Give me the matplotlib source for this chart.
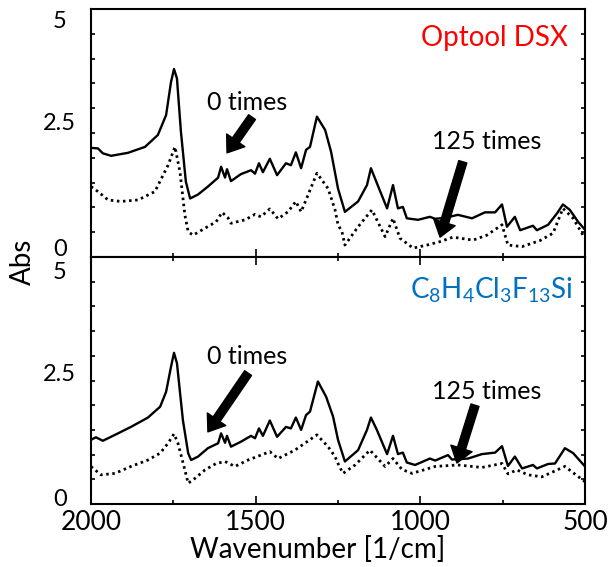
import numpy as np
import matplotlib
matplotlib.use("Agg")
import matplotlib.pyplot as plt
from matplotlib.transforms import ScaledTranslation

plt.rcParams['font.family'] = ['Lato', 'DejaVu Sans']
plt.rcParams['mathtext.default'] = 'regular'

# spectra: wavenumber [1/cm] and absorbance
wn_top_0 = [2000, 1979, 1964, 1939, 1888, 1836, 1797, 1772, 1757, 1748, 1739, 1727, 1712, 1699,
            1675, 1645, 1614, 1605, 1593, 1587, 1575, 1545, 1514, 1502, 1490, 1478, 1457, 1435,
            1408, 1393, 1378, 1362, 1347, 1335, 1314, 1289, 1271, 1250, 1229, 1189, 1162, 1150,
            1132, 1101, 1083, 1068, 1053, 1041, 1007, 971, 955, 925, 886, 843, 804, 773, 752,
            737, 713, 697, 658, 646, 612, 585, 567, 546, 521, 500]
abs_top_0 = [2.20, 2.19, 2.09, 2.04, 2.10, 2.22, 2.46, 2.86, 3.53, 3.79, 3.60, 2.53, 1.52, 1.18,
             1.26, 1.42, 1.60, 1.82, 1.60, 1.77, 1.53, 1.67, 1.75, 1.68, 1.89, 1.71, 1.98, 1.65,
             1.89, 1.85, 2.11, 1.79, 2.16, 2.22, 2.83, 2.56, 2.12, 1.38, 0.91, 1.12, 1.45, 1.79,
             1.49, 0.98, 1.45, 0.98, 1.01, 0.78, 0.75, 0.81, 0.77, 0.79, 0.85, 0.78, 0.90, 0.90, 1.06,
             0.61, 0.81, 0.54, 0.63, 0.54, 0.65, 0.88, 1.06, 0.95, 0.71, 0.55]

wn_top_125 = [2000, 1979, 1948, 1909, 1857, 1806, 1766, 1745, 1730, 1715, 1705, 1690, 1654, 1620,
              1602, 1584, 1575, 1532, 1502, 1484, 1457, 1432, 1402, 1378, 1362, 1341, 1314, 1280,
              1259, 1250, 1238, 1229, 1189, 1147, 1107, 1083, 1062, 1022, 980, 940, 901, 840, 798,
              752, 734, 691, 637, 597, 567, 536, 506, 500]
abs_top_125 = [1.42, 1.32, 1.15, 1.12, 1.15, 1.32, 1.85, 2.22, 1.72, 0.85, 0.51, 0.44, 0.58, 0.71,
               0.90, 0.79, 0.68, 0.75, 0.86, 0.81, 0.97, 0.77, 0.91, 1.12, 0.91, 1.25, 1.69, 1.38,
               0.95, 0.65, 0.51, 0.24, 0.61, 0.95, 0.41, 0.78, 0.38, 0.18, 0.24, 0.31, 0.40, 0.34, 0.44,
               0.65, 0.24, 0.21, 0.33, 0.48, 0.98, 0.78, 0.44, 0.40]

wn_bot_0 = [2000, 1985, 1964, 1927, 1879, 1827, 1790, 1772, 1757, 1748, 1739, 1721, 1705, 1696,
            1675, 1645, 1614, 1605, 1593, 1587, 1575, 1545, 1514, 1502, 1490, 1478, 1457, 1435,
            1408, 1393, 1378, 1362, 1347, 1335, 1311, 1286, 1265, 1250, 1229, 1189, 1162, 1150,
            1132, 1101, 1083, 1068, 1053, 1041, 1016, 971, 955, 916, 904, 855, 813, 773, 752,
            734, 713, 691, 658, 646, 612, 591, 561, 536, 500]
abs_bot_0 = [1.30, 1.35, 1.28, 1.40, 1.56, 1.75, 1.97, 2.27, 2.78, 3.06, 2.85, 1.70, 1.03, 0.89,
             0.96, 1.13, 1.23, 1.43, 1.24, 1.38, 1.16, 1.26, 1.38, 1.33, 1.53, 1.38, 1.69, 1.36,
             1.56, 1.53, 1.75, 1.50, 1.80, 1.87, 2.48, 2.17, 1.77, 1.30, 0.86, 1.09, 1.50, 1.75,
             1.50, 1.01, 1.38, 1.01, 1.04, 0.84, 0.79, 0.92, 0.88, 0.99, 0.90, 0.92, 1.01, 1.04, 1.17,
             0.77, 0.96, 0.72, 0.79, 0.72, 0.81, 0.82, 1.13, 1.03, 0.76]

wn_bot_125 = [2000, 1970, 1927, 1879, 1827, 1790, 1766, 1748, 1736, 1715, 1705, 1684, 1654, 1620,
              1593, 1563, 1523, 1484, 1457, 1432, 1381, 1314, 1280, 1259, 1250, 1235, 1198, 1153,
              1107, 1083, 1056, 1025, 955, 886, 813, 752, 734, 707, 673, 631, 561, 500]
abs_bot_125 = [0.76, 0.59, 0.62, 0.76, 0.89, 1.03, 1.23, 1.42, 1.23, 0.69, 0.42, 0.52, 0.69, 0.82,
               0.86, 0.76, 0.89, 0.99, 1.06, 0.92, 1.09, 1.40, 1.16, 0.96, 0.82, 0.62, 0.79, 1.09,
               0.76, 0.92, 0.70, 0.62, 0.76, 0.79, 0.74, 0.82, 0.61, 0.69, 0.59, 0.55, 0.76, 0.45]

ytick_vals = [0, 2.5, 5]
ytick_text = ["0", "2.5", "5"]
xtick_vals = [2000, 1500, 1000, 500]

fig = plt.figure(figsize=(6.09, 5.67), dpi=100)
ax1 = fig.add_axes([91/609, 1-257/567, 494/609, 248/567])
ax2 = fig.add_axes([91/609, 1-504/567, 494/609, 247/567])

dotted = (0, (0.9, 1.3))
ax1.plot(wn_top_0, abs_top_0, color='black', lw=1.7)
ax1.plot(wn_top_125, abs_top_125, color='black', lw=2.0, linestyle=dotted)
ax2.plot(wn_bot_0, abs_bot_0, color='black', lw=1.7)
ax2.plot(wn_bot_125, abs_bot_125, color='black', lw=2.0, linestyle=dotted)

# label offsets (px) for y tick labels, as placed in the original
ylab_dy = {0: [9, 11, -11], 1: [6, 8, -14]}

for i, ax in enumerate([ax1, ax2]):
    ax.set_xlim(2000, 500)
    ax.set_ylim(0, 5)
    for s in ax.spines.values():
        s.set_linewidth(1.5)
    ax.set_xticks(xtick_vals)
    ax.set_xticks(np.arange(500, 2001, 250), minor=True)
    ax.set_yticks(ytick_vals)
    ax.set_yticklabels(ytick_text)
    ax.set_yticks(np.arange(0, 5.01, 0.5), minor=True)
    ax.tick_params(axis='y', which='both', direction='in', length=3, width=1.2,
                   right=True, labelsize=17, pad=16)
    ax.tick_params(axis='x', which='major', direction='in', length=6, width=1.2,
                   top=(i == 1), labelsize=19, pad=4)
    ax.tick_params(axis='x', which='minor', direction='in', length=3, width=1.2,
                   top=(i == 1))
    for lbl, dy in zip(ax.get_yticklabels(), ylab_dy[i]):
        lbl.set_horizontalalignment('center')
        lbl.set_transform(lbl.get_transform() + ScaledTranslation(-0.09, dy/100, fig.dpi_scale_trans))

ax1.tick_params(axis='x', labelbottom=False)

arrow = dict(facecolor='black', edgecolor='black', width=6, headwidth=16, headlength=11, shrink=0)

ax1.annotate('', xy=(1587, 2.10), xytext=(1511, 2.82), arrowprops=arrow)
ax1.text(1526, 3.12, '0 times', fontsize=18, ha='center', va='center')
ax1.annotate('', xy=(940, 0.40), xytext=(871, 1.92), arrowprops=arrow)
ax1.text(798, 2.32, '125 times', fontsize=18, ha='center', va='center')
ax1.text(0.966, 0.885, 'Optool DSX', color='#FF0000', fontsize=20,
         ha='right', va='center', transform=ax1.transAxes)

ax2.annotate('', xy=(1645, 1.46), xytext=(1523, 2.65), arrowprops=arrow)
ax2.text(1526, 2.98, '0 times', fontsize=18, ha='center', va='center')
ax2.annotate('', xy=(889, 0.83), xytext=(834, 2.00), arrowprops=arrow)
ax2.text(798, 2.27, '125 times', fontsize=18, ha='center', va='center')
ax2.text(0.975, 0.866, r'C$_8$H$_4$Cl$_3$F$_{13}$Si', color='#0070C0', fontsize=20,
         ha='right', va='center', transform=ax2.transAxes)

fig.text(318/609, 1-549/567, 'Wavenumber [1/cm]', fontsize=20, ha='center', va='center')
fig.text(23/609, 1-262/567, 'Abs', fontsize=20, rotation=90, ha='center', va='center')

fig.savefig('out.png', dpi=100)
